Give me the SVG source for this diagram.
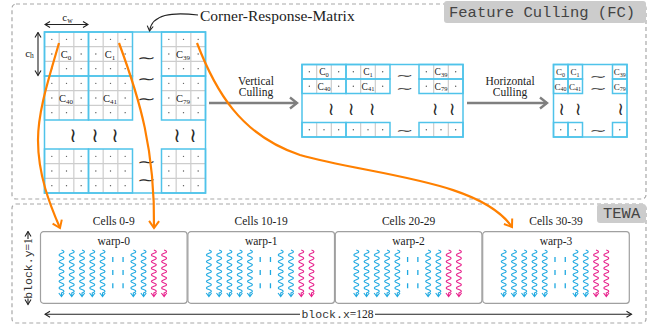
<svg xmlns="http://www.w3.org/2000/svg" xmlns:xlink="http://www.w3.org/1999/xlink" width="667" height="326" viewBox="0 0 667 326">
<style>
.dash{fill:none;stroke:#a8a8a8;stroke-width:1.2;stroke-dasharray:4 3}
.tag{fill:#cccccc}
.tagt{font-family:"Liberation Mono",monospace;font-size:15.5px;fill:#444}
.grid{fill:none;stroke:#cdcdcd;stroke-width:1.2}
.cy{fill:none;stroke:#4fc3ea;stroke-width:1.5}
.dot{fill:#555}
.lb{font-family:"Liberation Serif",serif;fill:#222;text-anchor:middle}
.tl{font-family:"DejaVu Sans",sans-serif;fill:#2a2a2a;text-anchor:middle}
.ser{font-family:"Liberation Serif",serif;fill:#222}
.mid{text-anchor:middle}
.mono{font-family:"Liberation Mono",monospace;fill:#333}
.org{fill:none;stroke:#ff8000;stroke-width:2.2}
.gar{fill:none;stroke:#7f7f7f;stroke-width:2.6}
.kar{fill:none;stroke:#222;stroke-width:1.1}
.box{fill:#fff;stroke:#a0a0a0;stroke-width:1.2}
.tc{fill:none;stroke:#1fa9e1;stroke-width:1.1}
.tm{fill:none;stroke:#e8218c;stroke-width:1.1}
.dd{fill:none;stroke:#1fa9e1;stroke-width:1.3}
</style>
<defs>
<marker id="oa" markerUnits="userSpaceOnUse" viewBox="-9 -7 11 14" markerWidth="11" markerHeight="14" refX="0" refY="0" orient="auto"><path d="M-7,-5 L0,0 L-7,5" fill="none" stroke="#ff8000" stroke-width="2"/></marker>
<marker id="ga" markerUnits="userSpaceOnUse" viewBox="-9 -7 11 14" markerWidth="11" markerHeight="14" refX="0" refY="0" orient="auto"><path d="M-7,-5.5 L0,0 L-7,5.5" fill="none" stroke="#7f7f7f" stroke-width="2.4"/></marker>
<marker id="ka" markerUnits="userSpaceOnUse" viewBox="-7 -5 8 10" markerWidth="8" markerHeight="10" refX="0" refY="0" orient="auto-start-reverse"><path d="M-5,-3 L0,0 L-5,3" fill="none" stroke="#222" stroke-width="1.1"/></marker>
<g id="bdr"><circle class="dot" cx="51.83" cy="0" r="0.7"/><circle class="dot" cx="66.5" cy="0" r="0.7"/><circle class="dot" cx="81.17" cy="0" r="0.7"/><circle class="dot" cx="95.83" cy="0" r="0.7"/><circle class="dot" cx="110.5" cy="0" r="0.7"/><circle class="dot" cx="125.17" cy="0" r="0.7"/><circle class="dot" cx="168.83" cy="0" r="0.7"/><circle class="dot" cx="183.5" cy="0" r="0.7"/><circle class="dot" cx="198.17" cy="0" r="0.7"/></g>
<g id="bdl"><circle class="dot" cx="51.83" cy="0" r="0.7"/><circle class="dot" cx="81.17" cy="0" r="0.7"/><circle class="dot" cx="95.83" cy="0" r="0.7"/><circle class="dot" cx="125.17" cy="0" r="0.7"/><circle class="dot" cx="168.83" cy="0" r="0.7"/><circle class="dot" cx="198.17" cy="0" r="0.7"/></g>
<path id="t" d="M0,0 q5,1.65 0,3.3 q-5,1.65 0,3.3 q5,1.65 0,3.3 q-5,1.65 0,3.3 q5,1.65 0,3.3 q-5,1.65 0,3.3 q5,1.65 0,3.3 q-5,1.65 0,3.3 q5,1.65 0,3.3 q-5,1.65 0,3.3 q5,1.65 0,3.3 q-5,1.65 0,3.3 q5,1.65 0,3.3 v3.6 M-2.7,43 L0,46.5 L2.7,43"/>
<g id="threads">
<use xlink:href="#t" href="#t" x="21" y="18.3" class="tc"/>
<use xlink:href="#t" href="#t" x="31.26" y="18.3" class="tc"/>
<use xlink:href="#t" href="#t" x="41.52" y="18.3" class="tc"/>
<use xlink:href="#t" href="#t" x="51.78" y="18.3" class="tc"/>
<use xlink:href="#t" href="#t" x="62.04" y="18.3" class="tc"/>
<path class="dd" d="M72.3,25.3 v5 M72.3,38.3 v5 M72.3,51.6 v5 M82.56,25.3 v5 M82.56,38.3 v5 M82.56,51.6 v5"/>
<use xlink:href="#t" href="#t" x="92.82" y="18.3" class="tc"/>
<use xlink:href="#t" href="#t" x="103.08" y="18.3" class="tc"/>
<use xlink:href="#t" href="#t" x="113.34" y="18.3" class="tm"/>
<use xlink:href="#t" href="#t" x="123.6" y="18.3" class="tm"/>
</g>
</defs>

<g id="fc-frame">
<rect class="dash" x="12" y="4" width="634" height="195" rx="4"/>
<rect class="tag" x="444" y="1" width="202" height="22" rx="3"/>
<text class="tagt" x="449" y="16.5">Feature Culling (FC)</text>
</g>

<g id="tewa-frame">
<rect class="dash" x="12" y="204" width="634" height="119" rx="4"/>
<rect class="tag" x="597" y="204" width="49" height="19" rx="3"/>
<text class="tagt" x="603" y="217.7">TEWA</text>
</g>

<g id="corner-response-matrix">
<path class="grid" d="M59.17,32V120M59.17,149V193M73.83,32V120M73.83,149V193M103.17,32V120M103.17,149V193M117.83,32V120M117.83,149V193M176.17,32V120M176.17,149V193M190.83,32V120M190.83,149V193M44.5,46.67H132.5M161.5,46.67H205.5M44.5,61.33H132.5M161.5,61.33H205.5M44.5,90.67H132.5M161.5,90.67H205.5M44.5,105.33H132.5M161.5,105.33H205.5M44.5,163.67H132.5M161.5,163.67H205.5M44.5,178.33H132.5M161.5,178.33H205.5"/>
<rect class="cy" x="44.5" y="32" width="161" height="161"/>
<rect class="cy" x="44.5" y="32" width="44" height="44"/>
<rect class="cy" x="88.5" y="32" width="44" height="44"/>
<rect class="cy" x="161.5" y="32" width="44" height="44"/>
<rect class="cy" x="44.5" y="76" width="44" height="44"/>
<rect class="cy" x="88.5" y="76" width="44" height="44"/>
<rect class="cy" x="161.5" y="76" width="44" height="44"/>
<rect class="cy" x="44.5" y="149" width="44" height="44"/>
<rect class="cy" x="88.5" y="149" width="44" height="44"/>
<rect class="cy" x="161.5" y="149" width="44" height="44"/>
<use xlink:href="#bdr" href="#bdr" y="39.33"/>
<use xlink:href="#bdl" href="#bdl" y="54"/>
<use xlink:href="#bdr" href="#bdr" y="68.67"/>
<use xlink:href="#bdr" href="#bdr" y="83.33"/>
<use xlink:href="#bdl" href="#bdl" y="98"/>
<use xlink:href="#bdr" href="#bdr" y="112.67"/>
<use xlink:href="#bdr" href="#bdr" y="156.33"/>
<use xlink:href="#bdr" href="#bdr" y="171"/>
<use xlink:href="#bdr" href="#bdr" y="185.67"/>
<g font-size="10.5">
<text class="lb" x="66" y="57.5">C<tspan font-size="7" dy="2">0</tspan></text>
<text class="lb" x="110" y="57.5">C<tspan font-size="7" dy="2">1</tspan></text>
<text class="lb" x="183" y="57.5">C<tspan font-size="7" dy="2">39</tspan></text>
<text class="lb" x="66" y="101.5">C<tspan font-size="7" dy="2">40</tspan></text>
<text class="lb" x="110" y="101.5">C<tspan font-size="7" dy="2">41</tspan></text>
<text class="lb" x="183" y="101.5">C<tspan font-size="7" dy="2">79</tspan></text>
</g>
<g font-size="15">
<text class="tl" transform="translate(146.5,63) scale(1.5,1)">∼</text>
<text class="tl" transform="translate(146.5,83.8) scale(1.5,1)">∼</text>
<text class="tl" transform="translate(146.5,103.8) scale(1.5,1)">∼</text>
<text class="tl" transform="translate(146.5,166.8) scale(1.5,1)">∼</text>
<text class="tl" transform="translate(146.5,184.5) scale(1.5,1)">∼</text>
</g>
<g font-size="20">
<text class="tl" x="73" y="142.3">≀</text>
<text class="tl" x="95" y="142.3">≀</text>
<text class="tl" x="115" y="142.3">≀</text>
<text class="tl" x="177" y="142.3">≀</text>
<text class="tl" x="193" y="142.3">≀</text>
</g>
<path class="kar" d="M45,24.5 H88" marker-start="url(#ka)" marker-end="url(#ka)"/>
<text class="lb" x="67.5" y="21" font-size="11">c<tspan font-size="7.5" dy="1.5">w</tspan></text>
<path class="kar" d="M38,32.5 V75.5" marker-start="url(#ka)" marker-end="url(#ka)"/>
<text class="lb" x="29.5" y="56.7" font-size="11">c<tspan font-size="7.5" dy="1.5">h</tspan></text>
<text class="ser" x="200" y="20.5" font-size="15.5">Corner-Response-Matrix</text>
</g>

<g id="vertical-culled">
<path class="grid" d="M316.67,64.5V93.5M316.67,122.5V137M331.33,64.5V93.5M331.33,122.5V137M360.67,64.5V93.5M360.67,122.5V137M375.33,64.5V93.5M375.33,122.5V137M433.67,64.5V93.5M433.67,122.5V137M448.33,64.5V93.5M448.33,122.5V137"/>
<rect class="cy" x="302" y="64.5" width="161" height="72.5"/>
<rect class="cy" x="302" y="64.5" width="44" height="14.5"/>
<rect class="cy" x="346" y="64.5" width="44" height="14.5"/>
<rect class="cy" x="419" y="64.5" width="44" height="14.5"/>
<rect class="cy" x="302" y="79" width="44" height="14.5"/>
<rect class="cy" x="346" y="79" width="44" height="14.5"/>
<rect class="cy" x="419" y="79" width="44" height="14.5"/>
<rect class="cy" x="302" y="122.5" width="44" height="14.5"/>
<rect class="cy" x="346" y="122.5" width="44" height="14.5"/>
<rect class="cy" x="419" y="122.5" width="44" height="14.5"/>
<g>
<circle class="dot" cx="309.33" cy="71.75" r="0.7"/><circle class="dot" cx="338.67" cy="71.75" r="0.7"/><circle class="dot" cx="353.33" cy="71.75" r="0.7"/><circle class="dot" cx="382.67" cy="71.75" r="0.7"/><circle class="dot" cx="426.33" cy="71.75" r="0.7"/><circle class="dot" cx="455.67" cy="71.75" r="0.7"/>
<circle class="dot" cx="309.33" cy="86.25" r="0.7"/><circle class="dot" cx="338.67" cy="86.25" r="0.7"/><circle class="dot" cx="353.33" cy="86.25" r="0.7"/><circle class="dot" cx="382.67" cy="86.25" r="0.7"/><circle class="dot" cx="426.33" cy="86.25" r="0.7"/><circle class="dot" cx="455.67" cy="86.25" r="0.7"/>
<circle class="dot" cx="309.33" cy="129.75" r="0.7"/><circle class="dot" cx="324" cy="129.75" r="0.7"/><circle class="dot" cx="338.67" cy="129.75" r="0.7"/><circle class="dot" cx="353.33" cy="129.75" r="0.7"/><circle class="dot" cx="368" cy="129.75" r="0.7"/><circle class="dot" cx="382.67" cy="129.75" r="0.7"/><circle class="dot" cx="426.33" cy="129.75" r="0.7"/><circle class="dot" cx="441" cy="129.75" r="0.7"/><circle class="dot" cx="455.67" cy="129.75" r="0.7"/>
</g>
<g font-size="9.5">
<text class="lb" x="324" y="75">C<tspan font-size="6.5" dy="1.8">0</tspan></text>
<text class="lb" x="368" y="75">C<tspan font-size="6.5" dy="1.8">1</tspan></text>
<text class="lb" x="441" y="75">C<tspan font-size="6.5" dy="1.8">39</tspan></text>
<text class="lb" x="324" y="89.5">C<tspan font-size="6.5" dy="1.8">40</tspan></text>
<text class="lb" x="368" y="89.5">C<tspan font-size="6.5" dy="1.8">41</tspan></text>
<text class="lb" x="441" y="89.5">C<tspan font-size="6.5" dy="1.8">79</tspan></text>
</g>
<g font-size="10.5">
<text class="tl" transform="translate(404.5,79) scale(2,1)">∼</text>
<text class="tl" transform="translate(404.5,91.6) scale(2,1)">∼</text>
<text class="tl" transform="translate(404.5,134.3) scale(2,1)">∼</text>
</g>
<g font-size="18">
<text class="tl" x="331" y="114.6">≀</text>
<text class="tl" x="351" y="114.6">≀</text>
<text class="tl" x="372" y="114.6">≀</text>
<text class="tl" x="435" y="114.6">≀</text>
<text class="tl" x="452" y="114.6">≀</text>
</g>
</g>

<g id="horizontal-culled">
<rect class="cy" x="553.5" y="64.5" width="73.5" height="72.5"/>
<rect class="cy" x="553.5" y="64.5" width="14.5" height="14.5"/>
<rect class="cy" x="568" y="64.5" width="14.5" height="14.5"/>
<rect class="cy" x="612.5" y="64.5" width="14.5" height="14.5"/>
<rect class="cy" x="553.5" y="79" width="14.5" height="14.5"/>
<rect class="cy" x="568" y="79" width="14.5" height="14.5"/>
<rect class="cy" x="612.5" y="79" width="14.5" height="14.5"/>
<rect class="cy" x="553.5" y="122.5" width="14.5" height="14.5"/>
<rect class="cy" x="568" y="122.5" width="14.5" height="14.5"/>
<rect class="cy" x="612.5" y="122.5" width="14.5" height="14.5"/>
<circle class="dot" cx="560.75" cy="129.75" r="0.7"/><circle class="dot" cx="575.25" cy="129.75" r="0.7"/><circle class="dot" cx="619.75" cy="129.75" r="0.7"/>
<g font-size="9">
<text class="lb" x="560.5" y="75">C<tspan font-size="6" dy="1.6">0</tspan></text>
<text class="lb" x="575" y="75">C<tspan font-size="6" dy="1.6">1</tspan></text>
<text class="lb" x="619.75" y="75">C<tspan font-size="6" dy="1.6">39</tspan></text>
<text class="lb" x="560.5" y="89.5">C<tspan font-size="6" dy="1.6">40</tspan></text>
<text class="lb" x="575" y="89.5">C<tspan font-size="6" dy="1.6">41</tspan></text>
<text class="lb" x="619.75" y="89.5">C<tspan font-size="6" dy="1.6">79</tspan></text>
</g>
<g font-size="10.5">
<text class="tl" transform="translate(598,79.5) scale(2,1)">∼</text>
<text class="tl" transform="translate(598,92.3) scale(2,1)">∼</text>
<text class="tl" transform="translate(598,134.3) scale(2,1)">∼</text>
</g>
<g font-size="18">
<text class="tl" x="561.5" y="114.6">≀</text>
<text class="tl" x="578" y="114.6">≀</text>
<text class="tl" x="620.5" y="114.6">≀</text>
</g>
</g>

<g id="warp-0" transform="translate(40.5,231.7)">
<rect class="box" x="0" y="0" width="146.6" height="71.6" rx="3"/>
<text class="ser mid" x="73.3" y="-7.2" font-size="11.5">Cells 0-9</text>
<text class="ser mid" x="73.3" y="13.8" font-size="11.5">warp-0</text>
<use xlink:href="#threads" href="#threads"/>
</g>
<g id="warp-1" transform="translate(187.9,231.7)">
<rect class="box" x="0" y="0" width="146.6" height="71.6" rx="3"/>
<text class="ser mid" x="73.3" y="-7.2" font-size="11.5">Cells 10-19</text>
<text class="ser mid" x="73.3" y="13.8" font-size="11.5">warp-1</text>
<use xlink:href="#threads" href="#threads"/>
</g>
<g id="warp-2" transform="translate(335.3,231.7)">
<rect class="box" x="0" y="0" width="146.6" height="71.6" rx="3"/>
<text class="ser mid" x="73.3" y="-7.2" font-size="11.5">Cells 20-29</text>
<text class="ser mid" x="73.3" y="13.8" font-size="11.5">warp-2</text>
<use xlink:href="#threads" href="#threads"/>
</g>
<g id="warp-3" transform="translate(482.7,231.7)">
<rect class="box" x="0" y="0" width="146.6" height="71.6" rx="3"/>
<text class="ser mid" x="73.3" y="-7.2" font-size="11.5">Cells 30-39</text>
<text class="ser mid" x="73.3" y="13.8" font-size="11.5">warp-3</text>
<use xlink:href="#threads" href="#threads"/>
</g>

<g id="block-dims">
<path class="kar" d="M28,239 V231.5" marker-end="url(#ka)"/>
<path class="kar" d="M28,298.5 V304.5" marker-end="url(#ka)"/>
<text class="ser" transform="translate(32,268.5) rotate(-90)" text-anchor="middle" font-size="11.5"><tspan class="mono">block.y</tspan>=1</text>
<path class="kar" d="M300,314.3 H45" marker-end="url(#ka)"/>
<path class="kar" d="M375,314.3 H631.5" marker-end="url(#ka)"/>
<text class="ser mid" x="337.5" y="317.5" font-size="11.5"><tspan class="mono">block.x</tspan>=128</text>
</g>

<g id="connectors">
<path class="kar" d="M198,15 C172,12 152,14 149.5,31" marker-end="url(#ka)"/>
<path class="gar" d="M209,103 H297" marker-end="url(#ga)"/>
<text class="ser mid" x="256" y="85" font-size="11.5">Vertical</text>
<text class="ser mid" x="256" y="96" font-size="11.5">Culling</text>
<path class="gar" d="M467,103 H547" marker-end="url(#ga)"/>
<text class="ser mid" x="510" y="85" font-size="11.5">Horizontal</text>
<text class="ser mid" x="510" y="96" font-size="11.5">Culling</text>
<path class="org" d="M59,43 C50,75 38,110 38,140 C38,175 50,205 60,228" marker-end="url(#oa)"/>
<path class="org" d="M119,43 C140,100 155,150 154,228" marker-end="url(#oa)"/>
<path class="org" d="M197,43 C215,90 240,135 300,155 C370,175 480,180 512,227" marker-end="url(#oa)"/>
</g>
</svg>
